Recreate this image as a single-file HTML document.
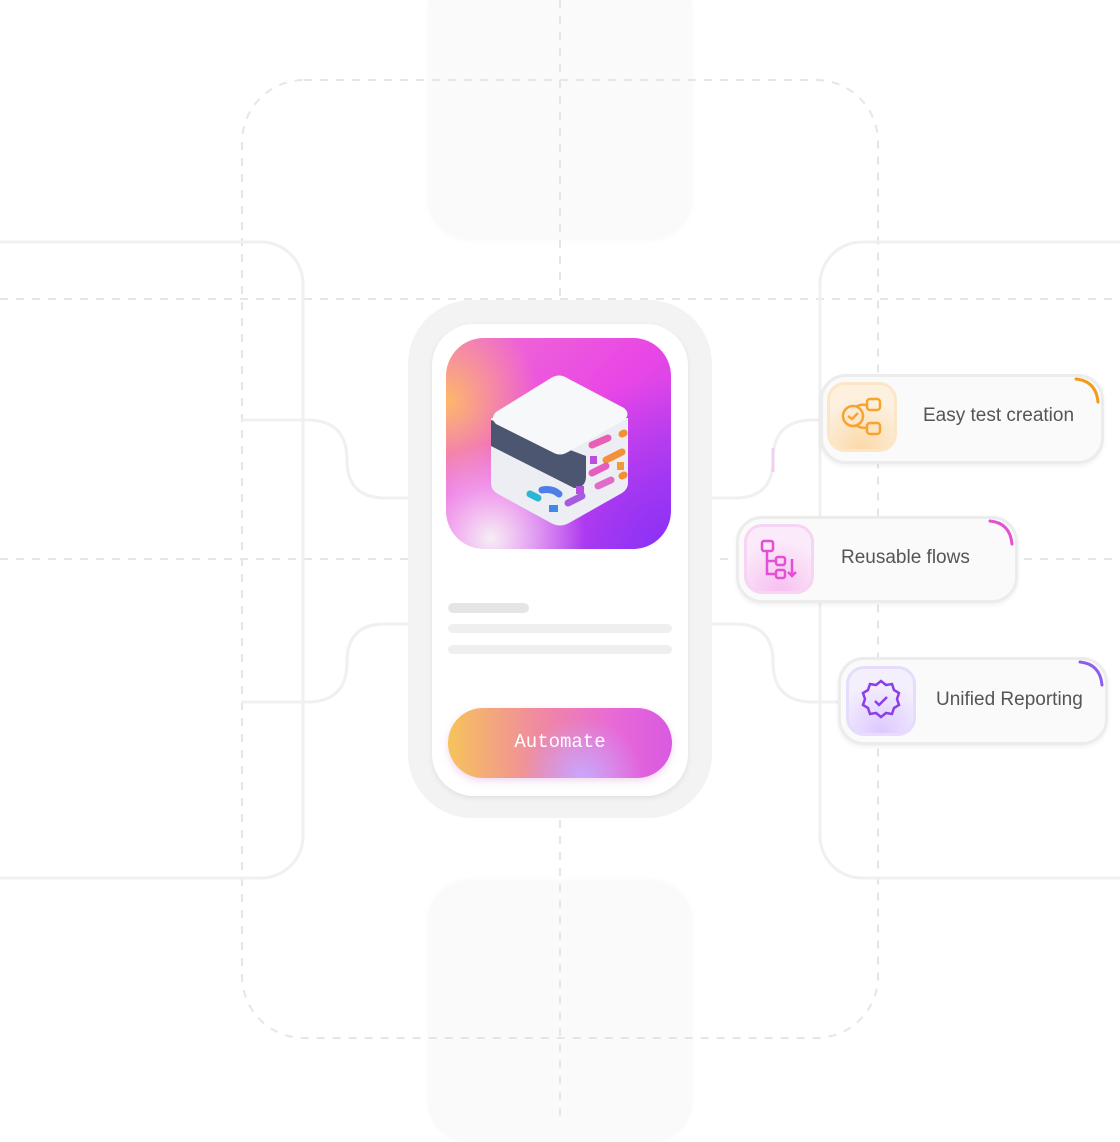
<!DOCTYPE html>
<html><head><style>
body{margin:0;width:1120px;height:1120px;background:#fff;position:relative;overflow:hidden;font-family:"Liberation Sans",sans-serif}
.a{position:absolute;box-sizing:border-box}
.card{background:#fbfafb;border:3px solid #ececec;border-radius:26px;box-shadow:0 2px 4px rgba(0,0,0,.06)}
.lbl{position:absolute;font-size:19px;color:#555;white-space:nowrap}
.ib{position:absolute;width:70px;height:70px;border-radius:18px;box-sizing:border-box}
</style></head><body>
<div class="a" style="left:428px;top:-30px;width:264px;height:268px;border-radius:40px;background:#fafafa;box-shadow:0 2px 6px rgba(0,0,0,.03)"></div>
<div class="a" style="left:428px;top:882px;width:264px;height:260px;border-radius:40px;background:#fafafa;box-shadow:0 -2px 6px rgba(0,0,0,.03)"></div>
<svg class="a" style="left:0;top:0" width="1120" height="1120">
<g fill="none" stroke="#e6e6e6" stroke-width="2" stroke-dasharray="8 8">
<line x1="560" y1="0" x2="560" y2="300"/><line x1="560" y1="820" x2="560" y2="1120"/>
<rect x="242" y="80" width="636" height="958" rx="62"/>
<line x1="0" y1="299" x2="1120" y2="299"/><line x1="0" y1="559" x2="1120" y2="559"/>
</g>
<g fill="none" stroke="#f0f0f0" stroke-width="3">
<rect x="-40" y="242" width="343" height="636" rx="42"/>
<rect x="820" y="242" width="360" height="636" rx="42"/>
<path d="M408 498 H385 Q347 498 347 460 Q347 420 307 420 H242"/>
<path d="M408 624 H385 Q347 624 347 662 Q347 702 307 702 H242"/>
<path d="M712 498 H735 Q773 498 773 460 Q773 420 813 420 H822"/>
<path d="M712 624 H735 Q773 624 773 662 Q773 702 813 702 H840"/>
</g>
<path d="M773 448 V472" stroke="#f2d0ef" stroke-width="3"/>
</svg>
<div class="a" style="left:408px;top:300px;width:304px;height:518px;border-radius:64px;background:#f3f3f3"></div>
<div class="a" style="left:432px;top:324px;width:256px;height:472px;border-radius:42px;background:#fff;box-shadow:0 2px 6px rgba(0,0,0,.08)"></div>
<div class="a" style="left:446px;top:338px;width:225px;height:211px;border-radius:38px;overflow:hidden;background:radial-gradient(circle at 20% 95%,#f6eef5 0,rgba(246,238,245,0) 35%),radial-gradient(circle at 0% 30%,#fdb86a 0,rgba(253,184,106,0) 35%),radial-gradient(circle at 100% 100%,#8b30f5 0,rgba(139,48,245,0) 55%),linear-gradient(135deg,#f070d0,#e946e6 50%,#b040f0)">
<svg width="225" height="211" style="position:absolute;left:0;top:0">
<path d="M45 80 L45 145 Q45 152 52 156 L105 185 Q114 190 123 185 L176 155 Q182 151 182 145 L182 80 Z" fill="#eceef3"/>
<path d="M45 82 L45 108 L128 150 Q140 150 140 138 L140 118 Z" fill="#4c5670"/>
<path d="M50 74 L105 40 Q113 35 121 40 L178 70 Q185 76 178 82 L122 114 Q114 119 106 114 L50 86 Q44 80 50 74Z" fill="#f7f8fa"/>
<g stroke-linecap="round" stroke-width="7" fill="none">
<path d="M146 107 L162 100" stroke="#e85fb5"/><path d="M160 122 L176 114" stroke="#f3913a"/>
<path d="M146 135 L160 128" stroke="#e65cc0"/><path d="M122 165 L136 158" stroke="#a75be0"/>
<path d="M96 152 Q106 150 113 156" stroke="#4f7ee8"/><path d="M84 156 L92 160" stroke="#2bb6d6"/>
<path d="M176 138 L178 137" stroke="#f39030"/><path d="M152 148 L165 142" stroke="#e36bc8"/>
<path d="M176 96 L178 95" stroke="#f39030"/>
</g>
<rect x="130" y="148" width="8" height="8" fill="#b350e0"/><rect x="103" y="167" width="9" height="7" fill="#3e8ae8"/><rect x="171" y="124" width="7" height="8" fill="#f39a35"/><rect x="144" y="118" width="7" height="8" fill="#b84fe0"/>
</svg></div>
<div class="a" style="left:448px;top:603px;width:81px;height:10px;border-radius:5px;background:#e5e5e5"></div>
<div class="a" style="left:448px;top:624px;width:224px;height:9px;border-radius:5px;background:#efefef"></div>
<div class="a" style="left:448px;top:645px;width:224px;height:9px;border-radius:5px;background:#efefef"></div>
<div class="a" style="left:448px;top:708px;width:224px;height:70px;border-radius:35px;background:radial-gradient(circle at 60% 100%,#c7a8ff 0,rgba(199,168,255,0) 40%),linear-gradient(90deg,#f6c35a,#f08aa0 40%,#e868d8 75%,#d85ae0);box-shadow:0 3px 8px rgba(200,100,200,.25)"></div>
<div class="lbl" style="left:448px;width:224px;text-align:center;top:731px;color:#fff;font-family:'Liberation Mono',monospace;font-size:19px">Automate</div>

<div class="a card" style="left:820px;top:374px;width:284px;height:90px"></div>
<div class="ib" style="left:827px;top:382px;background:radial-gradient(circle at 50% 100%,#fbd9a8,#fdf0df 70%);border:3px solid #fbe6c8"></div>
<svg class="a" style="left:827px;top:382px" width="70" height="70" fill="none" stroke="#f5a432" stroke-width="2.5"><circle cx="26" cy="34" r="10"/><path d="M21 34l4 3 6-6"/><rect x="40" y="17" width="13" height="11" rx="3"/><rect x="40" y="41" width="13" height="11" rx="3"/><path d="M29 25q3-3 11-2M29 43q3 3 11 3"/></svg>
<div class="lbl" style="left:923px;top:405px">Easy test creation</div>
<svg class="a" style="left:1070px;top:376px" width="34" height="30" fill="none"><path d="M6 3 Q26 5 28 26" stroke="#f29a1a" stroke-width="3" stroke-linecap="round"/></svg>

<div class="a card" style="left:736px;top:516px;width:282px;height:87px"></div>
<div class="ib" style="left:744px;top:524px;background:radial-gradient(circle at 50% 100%,#f6bff0,#fbeaf9 70%);border:3px solid #f7d4f3"></div>
<svg class="a" style="left:744px;top:524px" width="70" height="70" fill="none" stroke="#e44fd6" stroke-width="2.5"><rect x="18" y="17" width="11" height="10" rx="2"/><rect x="32" y="33" width="9" height="8" rx="2"/><rect x="32" y="46" width="9" height="8" rx="2"/><path d="M23 27v23h9M23 37h9M48 35v16M44 48l4 4 4-4"/></svg>
<div class="lbl" style="left:841px;top:547px">Reusable flows</div>
<svg class="a" style="left:984px;top:518px" width="34" height="30" fill="none"><path d="M6 3 Q26 5 28 26" stroke="#e44fd6" stroke-width="3" stroke-linecap="round"/></svg>

<div class="a card" style="left:838px;top:657px;width:270px;height:88px"></div>
<div class="ib" style="left:846px;top:666px;background:radial-gradient(circle at 50% 100%,#dcc8ff,#f4effd 70%);border:3px solid #e6dcfb"></div>
<svg class="a" style="left:846px;top:666px" width="70" height="70" fill="none" stroke="#8b3fe8" stroke-width="2.5"><path d="M35 15l5 4 6-1 2 6 5 3-2 6 2 6-5 3-2 6-6-1-5 4-5-4-6 1-2-6-5-3 2-6-2-6 5-3 2-6 6 1z"/><path d="M29 35l4 4 8-8"/></svg>
<div class="lbl" style="left:936px;top:689px">Unified Reporting</div>
<svg class="a" style="left:1074px;top:659px" width="34" height="30" fill="none"><path d="M6 3 Q26 5 28 26" stroke="#8f5cf0" stroke-width="3" stroke-linecap="round"/></svg>
</body></html>
